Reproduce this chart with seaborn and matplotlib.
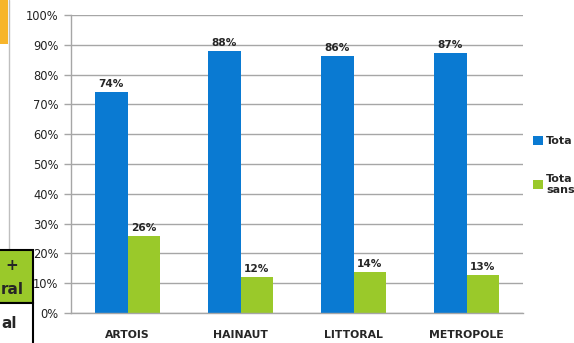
import matplotlib
matplotlib.use("Agg")
import matplotlib.pyplot as plt
import seaborn as sns
import pandas as pd
import numpy as np
from matplotlib.patches import Rectangle

categories = ["ARTOIS", "HAINAUT", "LITTORAL", "METROPOLE"]
series_names = ["Tota", "Tota\nsans"]
blue_vals = [74.2, 88.0, 86.4, 87.2]
green_vals = [26.0, 12.2, 13.8, 12.9]
label_blue = ["74%", "88%", "86%", "87%"]
label_green = ["26%", "12%", "14%", "13%"]
yticks = list(range(0, 101, 10))

sns.set_style("white")
plt.rcParams['font.family'] = ['DejaVu Sans']

df = pd.DataFrame({
    "cat": categories * 2,
    "serie": [series_names[0]] * 4 + [series_names[1]] * 4,
    "val": blue_vals + green_vals,
})

fig = plt.figure(figsize=(5.74, 3.43), dpi=100)
ax = fig.add_axes([71/574, 1 - 313/343, 452/574, 298/343])
palette = {series_names[0]: "#0A7AD2", series_names[1]: "#9AC92A"}
sns.barplot(data=df, x="cat", y="val", hue="serie", palette=palette,
            width=0.57, ax=ax, saturation=1, legend=True, linewidth=0)

ax.set_ylim(0, 100)
ax.set_xlim(-0.5, 3.5)
ax.set_yticks(yticks)
ax.set_yticklabels([f"{t}%" for t in yticks], fontsize=8.3, color="#222222")
ax.yaxis.grid(True, color="#A6A6A6", linewidth=1)
ax.set_axisbelow(True)
ax.set_xlabel("")
ax.set_ylabel("")
ax.tick_params(axis="x", length=0, pad=12, labelsize=7.8)
for lab in ax.get_xticklabels():
    lab.set_fontweight("bold")
ax.set_xticks(np.arange(-0.5, 4, 1), minor=True)
ax.tick_params(axis="x", which="minor", length=4, color="#A6A6A6", width=1, direction="out")
ax.tick_params(axis="y", length=5, color="#A6A6A6", width=1, direction="out", pad=4, left=True)
for s in ["top", "right"]:
    ax.spines[s].set_visible(False)
for s in ["left", "bottom"]:
    ax.spines[s].set_color("#A6A6A6")
    ax.spines[s].set_linewidth(1)

conts = ax.containers
ax.bar_label(conts[0], labels=label_blue, padding=2, fontsize=7.6, fontweight="bold")
ax.bar_label(conts[1], labels=label_green, padding=2, fontsize=7.6, fontweight="bold")

leg = ax.legend(loc="upper left", bbox_to_anchor=(533/574, 1 - 136/343),
                bbox_transform=fig.transFigure, frameon=False, fontsize=8,
                handlelength=0.9, handleheight=0.9, handletextpad=0.3,
                labelspacing=2.45, borderaxespad=0, borderpad=0)
for t in leg.get_texts():
    t.set_fontweight("bold")

# cropped artifacts at left edge
fig.patches.append(Rectangle((0, 1 - 44/343), 8/574, 44/343, transform=fig.transFigure,
                             facecolor="#F7B52B", edgecolor="none", zorder=0))
fig.add_artist(plt.Line2D([9/574, 9/574], [0, 1], transform=fig.transFigure,
                          color="#BFBFBF", linewidth=1))
fig.patches.append(Rectangle((-0.01, 1 - 303/343), 33/574 + 0.01, 53/343, transform=fig.transFigure,
                             facecolor="#9AC92A", edgecolor="black", linewidth=1.5, zorder=3))
fig.patches.append(Rectangle((-0.01, -0.01), 33/574 + 0.01, (40/343) + 0.01, transform=fig.transFigure,
                             facecolor="white", edgecolor="black", linewidth=1.5, zorder=3))
fig.text(12/574, 1 - 265/343, "+", fontsize=11, fontweight="bold", ha="center", va="center",
         zorder=4)
fig.text(1/574, 1 - 290/343, "ral", fontsize=11, fontweight="bold", ha="left", va="center",
         zorder=4)
fig.text(1/574, 1 - 323/343, "al", fontsize=11, fontweight="bold", ha="left", va="center",
         zorder=4)

fig.savefig("out.png", dpi=100)
